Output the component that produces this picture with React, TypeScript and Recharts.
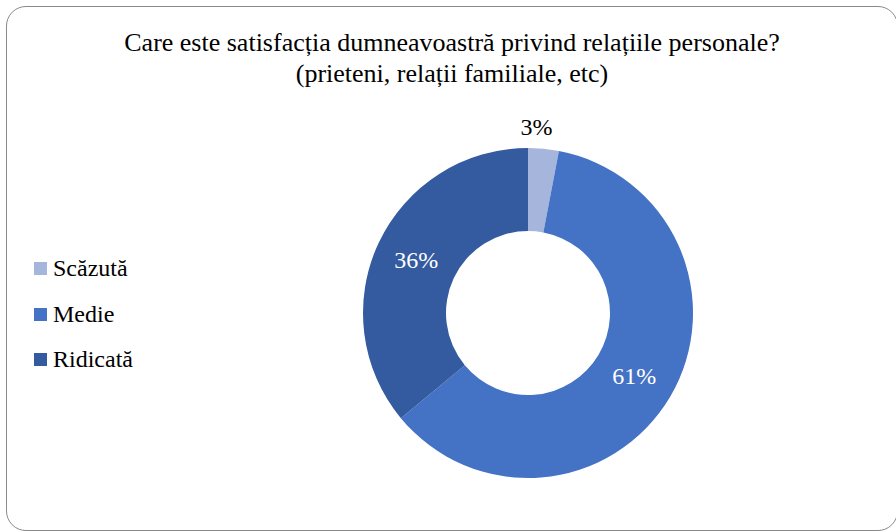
import React from 'react'
import { PieChart, Pie, Cell } from 'recharts'

const categories = ['Scăzută', 'Medie', 'Ridicată']
const values = [3, 61, 36]
const colors = ['#A6B5DB', '#4472C4', '#345B9F']

const chartData = categories.map((name, i) => ({ name, value: values[i] }))

const RAD = Math.PI / 180
const FONT = 'Liberation Serif, Times New Roman, serif'

function renderLabel(props: any) {
  const { cx, cy, midAngle, innerRadius, outerRadius, index, value } = props
  const outside = index === 0
  const r = outside ? outerRadius + 22 : (innerRadius + outerRadius) / 2
  const x = cx + r * Math.cos(-midAngle * RAD) - (outside ? 9 : 0)
  const y = cy + r * Math.sin(-midAngle * RAD)
  return (
    <text
      key={`lbl-${index}`}
      x={x}
      y={y}
      fill={outside ? '#000' : '#fff'}
      textAnchor="middle"
      dominantBaseline="central"
      style={{ fontFamily: FONT, fontSize: 24 }}
    >
      {value}%
    </text>
  )
}

export default function App() {
  return (
    <div
      style={{
        position: 'fixed',
        left: 0,
        top: 0,
        width: 896,
        height: 532,
        overflow: 'hidden',
        background: '#fff',
        fontFamily: FONT,
      }}
    >
      <div
        style={{
          position: 'absolute',
          left: 6,
          top: 6,
          width: 890,
          height: 523,
          border: '1.5px solid #8a8a8a',
          borderRadius: 20,
        }}
      />
      <div
        style={{
          position: 'absolute',
          left: 2,
          top: 27,
          width: 900,
          textAlign: 'center',
          fontSize: 26,
          lineHeight: '31px',
          color: '#000',
        }}
      >
        Care este satisfacția dumneavoastră privind relațiile personale?
        <br />
        (prieteni, relații familiale, etc)
      </div>
      <div style={{ position: 'absolute', left: 34, top: 246, fontSize: 24, color: '#000' }}>
        {categories.map((c, i) => (
          <div key={c} style={{ display: 'flex', alignItems: 'center', height: 45.5, lineHeight: '45px' }}>
            <span style={{ width: 13, height: 13, background: colors[i], marginRight: 6, display: 'inline-block' }} />
            <span>{c}</span>
          </div>
        ))}
      </div>
      <div style={{ position: 'absolute', left: 0, top: 0 }}>
        <PieChart width={896} height={532} margin={{ top: 0, right: 0, bottom: 0, left: 0 }}>
          <Pie
            data={chartData}
            dataKey="value"
            nameKey="name"
            cx={528}
            cy={313}
            innerRadius={82}
            outerRadius={165}
            startAngle={90}
            endAngle={-270}
            stroke="none"
            label={renderLabel}
            labelLine={false}
            isAnimationActive={false}
          >
            {chartData.map((d, i) => (
              <Cell key={d.name} fill={colors[i]} />
            ))}
          </Pie>
        </PieChart>
      </div>
    </div>
  )
}
